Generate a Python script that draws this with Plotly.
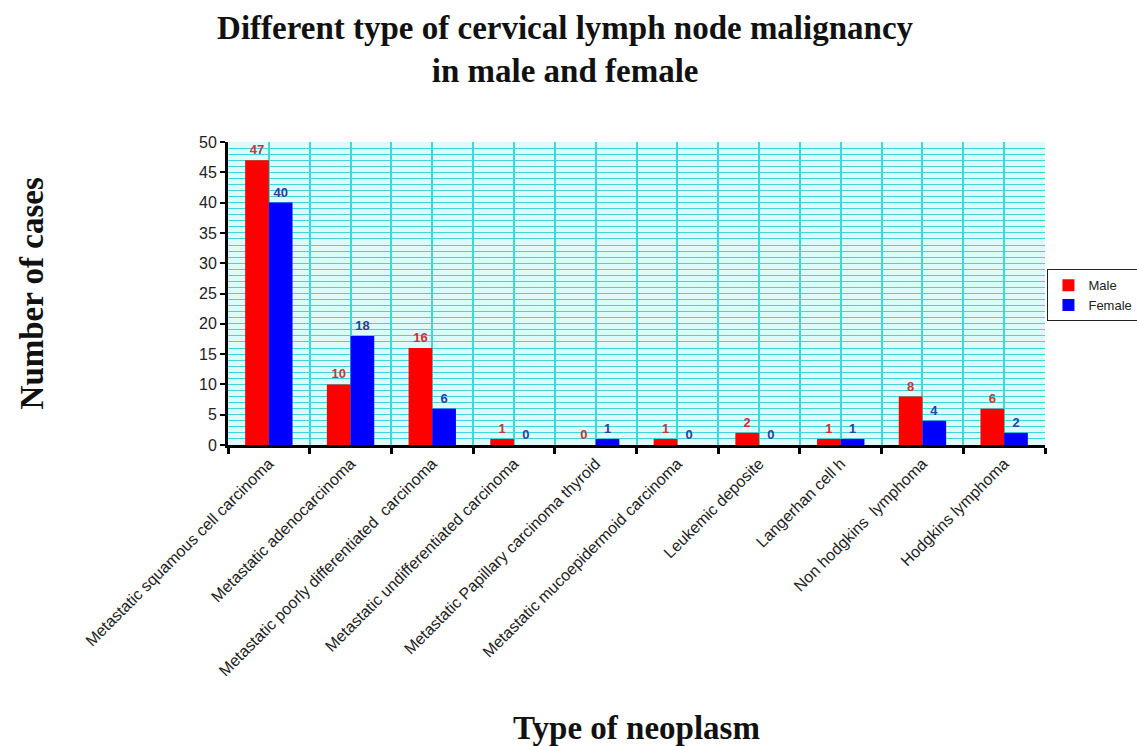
import plotly.graph_objects as go

categories = [
    "Metastatic squamous cell carcinoma",
    "Metastatic adenocarcinoma",
    "Metastatic poorly differentiated  carcinoma",
    "Metastatic undifferentiated carcinoma",
    "Metastatic Papillary carcinoma thyroid",
    "Metastatic mucoepidermoid carcinoma",
    "Leukemic deposite",
    "Langerhan cell h",
    "Non hodgkins  lymphoma",
    "Hodgkins lymphoma",
]
male = [47, 10, 16, 1, 0, 1, 2, 1, 8, 6]
female = [40, 18, 6, 0, 1, 0, 0, 1, 4, 2]
yticks = [0, 5, 10, 15, 20, 25, 30, 35, 40, 45, 50]

x = list(range(len(categories)))

fig = go.Figure()
fig.add_trace(go.Bar(
    x=x, y=male, name="Male", marker=dict(color="#FF0000", line=dict(width=0)),
    text=[str(v) for v in male], textposition="outside", cliponaxis=False,
    textfont=dict(family="Liberation Sans, Arial", size=13, color="#CC3333", weight="bold"),
))
fig.add_trace(go.Bar(
    x=x, y=female, name="Female", marker=dict(color="#0000FF", line=dict(width=0)),
    text=[str(v) for v in female], textposition="outside", cliponaxis=False,
    textfont=dict(family="Liberation Sans, Arial", size=13, color="#2B3FA0", weight="bold"),
))

grid = "#3FD8D8"
serif = "Liberation Serif, Times New Roman"
fig.update_layout(
    width=1137, height=746,
    paper_bgcolor="white", plot_bgcolor="#DDFBFB",
    margin=dict(l=228, r=92, t=142, b=301, autoexpand=False),
    barmode="group", bargap=0.42, bargroupgap=0,
    font=dict(family="Liberation Sans, Arial", color="#222222"),
    title=dict(
        text="<b>Different type of cervical lymph node malignancy</b><br><b>in male and female</b>",
        font=dict(family=serif, size=33, color="#111111"),
        x=0.497, xref="container", xanchor="center",
        y=0.948, yref="container", yanchor="middle",
    ),
    legend=dict(
        x=1.003, y=0.58, xanchor="left", yanchor="top",
        bordercolor="#222222", borderwidth=1, bgcolor="white",
        font=dict(family="Liberation Sans, Arial", size=13, color="#222222"),
        itemwidth=30, tracegroupgap=0,
    ),
    showlegend=True,
)
fig.update_xaxes(
    range=[-0.5, len(categories) - 0.5],
    tickmode="array", tickvals=x, ticktext=categories,
    tickangle=-45, tickfont=dict(size=16, color="#222222"),
    ticks="", showgrid=True, gridcolor=grid, gridwidth=2,
    showline=True, linecolor="black", linewidth=3,
    zeroline=False,
    minor=dict(tickmode="linear", tick0=-0.5, dtick=1, ticks="outside",
               ticklen=6, tickwidth=3, tickcolor="black",
               showgrid=True, gridcolor=grid, gridwidth=2),
)
fig.update_yaxes(
    range=[0, 50], tickmode="array", tickvals=yticks,
    tickfont=dict(size=16, color="#222222"),
    ticks="outside", ticklen=5, tickwidth=2, tickcolor="black",
    showgrid=True, gridcolor=grid, gridwidth=1,
    showline=True, linecolor="black", linewidth=3, zeroline=False,
    minor=dict(dtick=1, tick0=0, showgrid=True, gridcolor=grid, gridwidth=1),
)
fig.add_annotation(
    text="<b>Number of cases</b>", xref="paper", yref="paper",
    x=-0.24, y=0.5, xanchor="center", yanchor="middle", textangle=-90,
    showarrow=False,
    font=dict(family=serif, size=33, color="#111111"),
)
fig.add_annotation(
    text="<b>Type of neoplasm</b>", xref="paper", yref="paper",
    x=0.5, y=-0.934, xanchor="center", yanchor="middle",
    showarrow=False,
    font=dict(family=serif, size=33, color="#111111"),
)

fig.write_html(
    "out.html",
    config={"displayModeBar": False},
    post_script="document.body.style.margin='0';document.body.style.overflow='hidden';",
)
